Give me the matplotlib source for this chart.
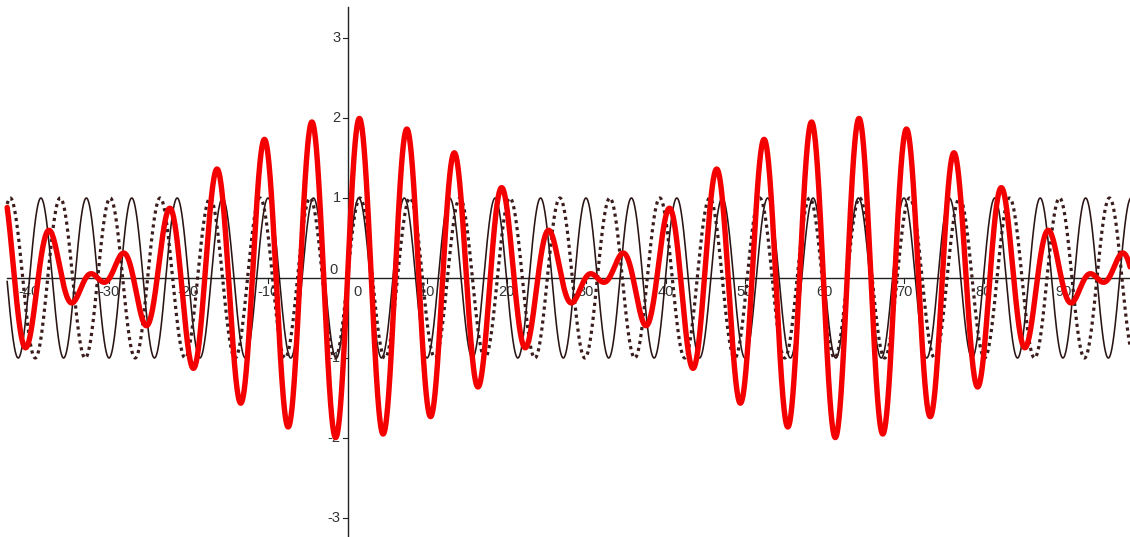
import numpy as np
import matplotlib.pyplot as plt

plt.rcParams['font.family'] = ['Liberation Sans', 'DejaVu Sans']

# two waves and their sum (beats)
freqs = [1.1, 1.0]          # solid wave, dotted wave (rad per unit)
amps = [1.0, 1.0]
x_start, x_end = -42.8, 99.0

x_ticks = [-40, -30, -20, -10, 10, 20, 30, 40, 50, 60, 70, 80, 90]
x_tick_labels = ['-40', '-30', '-20', '-10', '10', '20', '30', '40', '50', '60', '70', '80', '90']
y_ticks = [-3, -2, -1, 1, 2, 3]
y_tick_labels = ['-3', '-2', '-1', '1', '2', '3']

x = np.linspace(x_start, x_end, 6000)
y1 = amps[0] * np.sin(freqs[0] * x)
y2 = amps[1] * np.sin(freqs[1] * x)
y_sum = y1 + y2

fig = plt.figure(figsize=(11.3, 5.37), dpi=100)
ax = fig.add_axes([0, 0, 1, 1])
ax.set_xlim(-43.7, 98.4)
ax.set_ylim(-3.2375, 3.475)
ax.axis('off')

# axes through the origin
axcol = '#222222'
ax.plot([x_start, 98.4], [0, 0], color=axcol, lw=1.0, zorder=1)
ax.plot([0, 0], [-3.3, 3.39], color=axcol, lw=1.0, zorder=1)

# ticks and labels (in data units: 7.95 px per x unit, 80 px per y unit)
px_x = 1 / 7.95
px_y = 1 / 80
for t, lab in zip(x_ticks, x_tick_labels):
    ax.plot([t, t], [0, -5 * px_y], color=axcol, lw=0.8, zorder=1)
    ax.text(t, -14 * px_y, lab, ha='center', va='center', fontsize=10.5, color='#333333', zorder=1)
for t, lab in zip(y_ticks, y_tick_labels):
    ax.plot([-5 * px_x, 0], [t, t], color=axcol, lw=0.8, zorder=1)
    ax.text(-7 * px_x, t, lab, ha='right', va='center', fontsize=10.5, color='#333333', zorder=1)
ax.text(-14 * px_x, 8 * px_y, '0', ha='center', va='center', fontsize=10.5, color='#333333', zorder=1)
ax.text(9.5 * px_x, -14 * px_y, '0', ha='center', va='center', fontsize=10.5, color='#333333', zorder=1)

# curves
ax.plot(x, y1, color='#2a1414', lw=1.15, zorder=2)
ax.plot(x, y2, color='#3a1c1c', lw=2.3, linestyle=(0, (1, 1.2)), zorder=3)
ax.plot(x, y_sum, color='#f50000', lw=3.9, solid_capstyle='round', zorder=4)

fig.savefig('out.png', dpi=100)
